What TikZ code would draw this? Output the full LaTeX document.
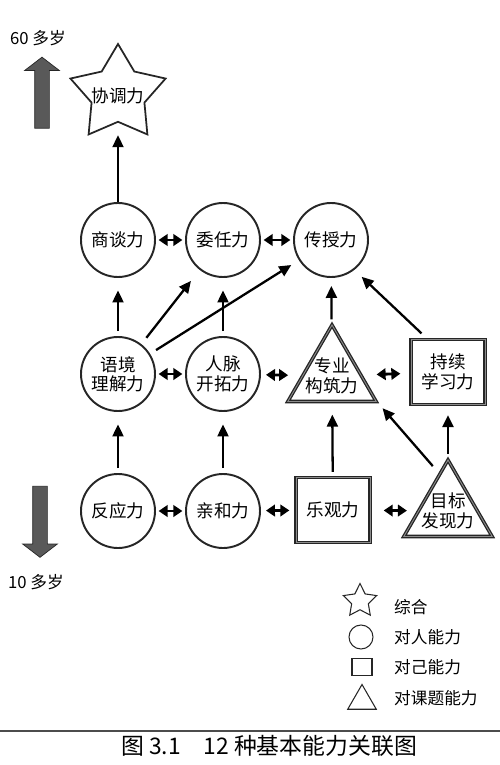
\documentclass[tikz,border=0pt]{standalone}
\usepackage{fontspec}
\newfontfamily\cjk{Noto Sans CJK SC}
\usetikzlibrary{shapes.geometric,shapes.arrows,arrows.meta}

\tikzset{
  person/.style={draw=black!85,circle,line width=1.1pt,minimum size=1.48cm,inner sep=0pt,align=center},
  own/.style={draw=black!85,rectangle,line width=0.75pt,double=black!45,double distance=0.5pt,minimum width=1.48cm,minimum height=1.3cm,inner sep=0pt,align=center},
  task/.style={draw=black!85,regular polygon,regular polygon sides=3,line width=0.75pt,double=black!45,double distance=0.5pt,minimum size=2.04cm,inner sep=0pt},
  whole/.style={draw=black!85,star,star points=5,star point ratio=1.8,line width=1pt,minimum size=2cm,inner sep=0pt},
  age/.style={single arrow,draw=black!85,fill=black!65,inner sep=0.14cm,minimum height=1.42cm,single arrow head extend=0.2cm,single arrow tip angle=105},
  up/.style={-{Triangle[length=2.4mm,width=2.2mm]},line width=1.3pt,shorten <=0.1cm,shorten >=0.25cm},
  both/.style={{Triangle[length=1.8mm,width=2.3mm]}-{Triangle[length=1.8mm,width=2.3mm]},line width=1.6pt,shorten <=1.5pt,shorten >=1.5pt},
  key/.style={anchor=west,font=\cjk\fontsize{9.5}{11}\selectfont},
}

\begin{document}
\begin{tikzpicture}[font=\cjk\fontsize{10}{11}\selectfont]
    \useasboundingbox (0,0) rectangle (10,-15.3);
    % age
    \node at (0.76,-0.76) (old) [key,anchor=center] {60 多岁};
    \node at (0.84,-1.91) (olda) [age,shape border rotate=90] {};
    \node at (0.80,-10.38) (younga) [age,shape border rotate=270] {};
    \node at (0.72,-11.64) (young) [key,anchor=center] {10 多岁};

    \node at (2.36,-1.88) (xt) [whole,label={[yshift=-1pt]center:协调力}] {};
    \node at (2.36,-4.80) (st) [person] {商谈力};
    \node at (4.46,-4.80) (wr) [person] {委任力};
    \node at (6.62,-4.80) (cs) [person] {传授力};
    \node at (2.36,-7.48) (yj) [person] {语境\\理解力};
    \node at (4.46,-7.48) (rm) [person] {人脉\\开拓力};
    \node at (6.64,-7.52) (zy) [task,label={[align=center]center:专业\\构筑力}] {};
    \node at (8.96,-7.44) (cx) [own] {持续\\学习力};
    \node at (2.36,-10.22) (fy) [person] {反应力};
    \node at (4.46,-10.22) (qh) [person] {亲和力};
    \node at (6.66,-10.20) (lg) [own] {乐观力};
    \node at (8.96,-10.22) (mb) [task,label={[align=center]center:目标\\发现力}] {};

    \draw[up] (fy) to (yj);
    \draw[up] (qh) to (rm);
    \draw[up] (lg) to (zy);
    \draw[up,shorten >=0.2cm] (mb) to (cx);
    \draw[up,shorten <=0.2cm,shorten >=0.16cm] (mb.103) to (zy.corner 3);
    \draw[up] (yj) to (st);
    \draw[up,shorten <=0.16cm,shorten >=0.28cm] (yj) to (wr);
    \draw[up,shorten <=0.14cm,shorten >=0.18cm] (yj) to (cs);
    \draw[up] (rm) to (wr);
    \draw[up,shorten >=0.16cm] (zy) to (cs);
    \draw[up,shorten <=0.16cm,shorten >=0.2cm] (cx.122) to (cs.-52);
    \draw[up,shorten <=0pt] (st) to (xt);

    \draw[both] (st) to (wr);
    \draw[both] (wr) to (cs);
    \draw[both] (yj) to (rm);
    \draw[both,shorten <=0.1cm,shorten >=0.28cm] (rm) to (zy);
    \draw[both,shorten <=0.3cm,shorten >=0.2cm] (zy) to (cx);
    \draw[both] (fy) to (qh);
    \draw[both,shorten <=0.1cm,shorten >=0.12cm] (qh) to (lg);
    \draw[both,shorten <=0.26cm,shorten >=0.22cm] (lg) to (mb);

    % legend
    \node at (7.20,-12.02) (lw) [whole,line width=0.6pt,star point ratio=2,minimum size=0.7cm] {};
    \node at (7.22,-12.74) (lp) [draw=black!85,circle,line width=0.6pt,minimum size=0.48cm] {};
    \node at (7.24,-13.34) (lo) [draw=black!85,rectangle,line width=0.6pt,minimum width=0.4cm,minimum height=0.34cm,inner sep=0pt] {};
    \node at (7.24,-14.02) (lt) [draw=black!85,regular polygon,regular polygon sides=3,line width=0.6pt,minimum size=0.66cm,inner sep=0pt] {};
    \node at (7.76,-12.14) (k1) [key] {综合};
    \node at (7.76,-12.74) (k2) [key] {对人能力};
    \node at (7.76,-13.34) (k3) [key] {对己能力};
    \node at (7.76,-13.96) (k4) [key] {对课题能力};

    \draw[black!70,line width=0.6pt] (0,-14.62) -- (10,-14.62);
    \node at (5.38,-14.92) (cap) [font=\cjk\fontsize{13}{15}\selectfont] {图 3.1\quad 12 种基本能力关联图};
\end{tikzpicture}
\end{document}
